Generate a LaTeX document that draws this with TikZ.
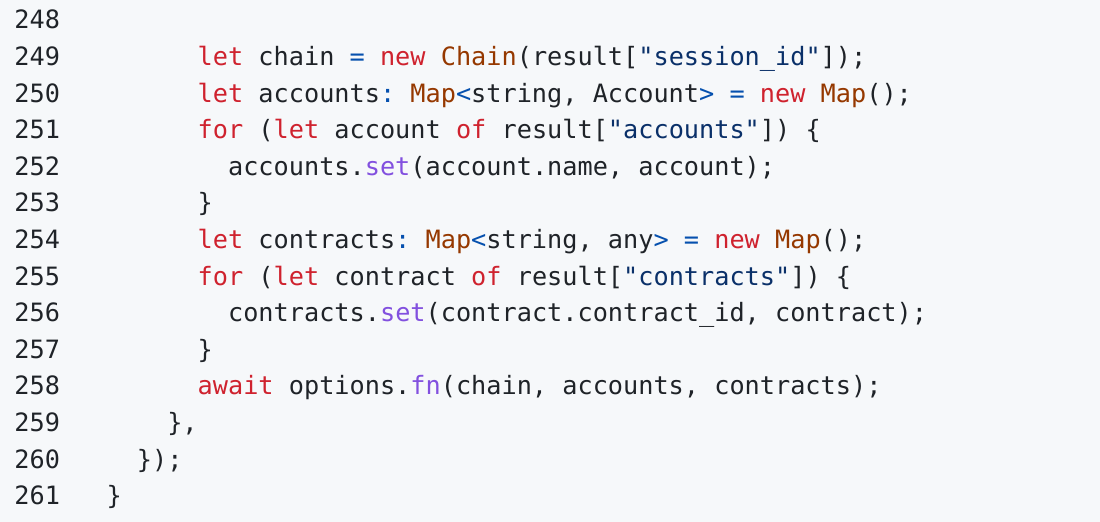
\documentclass[tikz,border=0pt]{standalone}
\usepackage{fontspec}
\setmonofont{DejaVu Sans Mono}
\definecolor{bgc}{HTML}{F6F8FA}
\definecolor{txt}{HTML}{1F2328}
\definecolor{kwc}{HTML}{CF222E}
\definecolor{tyc}{HTML}{953800}
\definecolor{stc}{HTML}{0A3069}
\definecolor{opc}{HTML}{0550AE}
\definecolor{fnc}{HTML}{8250DF}
\newcommand{\ckw}[1]{\textcolor{kwc}{#1}}
\newcommand{\cty}[1]{\textcolor{tyc}{#1}}
\newcommand{\cstr}[1]{\textcolor{stc}{#1}}
\newcommand{\cop}[1]{\textcolor{opc}{#1}}
\newcommand{\cfn}[1]{\textcolor{fnc}{#1}}
\begin{document}
\begin{tikzpicture}[x=0.5pt,y=-0.5pt,
  lnum/.style={anchor=base west, inner sep=0pt, text=txt, font=\ttfamily\fontsize{12.62}{15}\selectfont\frenchspacing},
  code/.style={anchor=base west, inner sep=0pt, text=txt, font=\ttfamily\fontsize{12.62}{15}\selectfont\frenchspacing}]
\fill[bgc] (0,0) rectangle (1100,522);
\useasboundingbox (0,0) rectangle (1100,522);
\node[lnum] (ln248) at (14,29){248};
\node[lnum] (ln249) at (14,65.6){249};
\node[lnum] (ln250) at (14,102.2){250};
\node[lnum] (ln251) at (14,138.8){251};
\node[lnum] (ln252) at (14,175.4){252};
\node[lnum] (ln253) at (14,212){253};
\node[lnum] (ln254) at (14,248.6){254};
\node[lnum] (ln255) at (14,285.2){255};
\node[lnum] (ln256) at (14,321.8){256};
\node[lnum] (ln257) at (14,358.4){257};
\node[lnum] (ln258) at (14,395){258};
\node[lnum] (ln259) at (14,431.6){259};
\node[lnum] (ln260) at (14,468.2){260};
\node[lnum] (ln261) at (14,504.8){261};
\node[code] (c249) at (197.3,65.6){\ckw{let} chain \cop{=} \ckw{new} \cty{Chain}(result[\cstr{"session\_id"}]);};
\node[code] (c250) at (197.3,102.2){\ckw{let} accounts\cop{:} \cty{Map}\cop{<}string, Account\cop{>} \cop{=} \ckw{new} \cty{Map}();};
\node[code] (c251) at (197.3,138.8){\ckw{for} (\ckw{let} account \ckw{of} result[\cstr{"accounts"}]) \{};
\node[code] (c252) at (227.7,175.4){accounts.\cfn{set}(account.name, account);};
\node[code] (c253) at (197.3,212){\}};
\node[code] (c254) at (197.3,248.6){\ckw{let} contracts\cop{:} \cty{Map}\cop{<}string, any\cop{>} \cop{=} \ckw{new} \cty{Map}();};
\node[code] (c255) at (197.3,285.2){\ckw{for} (\ckw{let} contract \ckw{of} result[\cstr{"contracts"}]) \{};
\node[code] (c256) at (227.7,321.8){contracts.\cfn{set}(contract.contract\_id, contract);};
\node[code] (c257) at (197.3,358.4){\}};
\node[code] (c258) at (197.3,395){\ckw{await} options.\cfn{fn}(chain, accounts, contracts);};
\node[code] (c259) at (166.9,431.6){\},};
\node[code] (c260) at (136.5,468.2){\});};
\node[code] (c261) at (106.1,504.8){\}};
\end{tikzpicture}
\end{document}
